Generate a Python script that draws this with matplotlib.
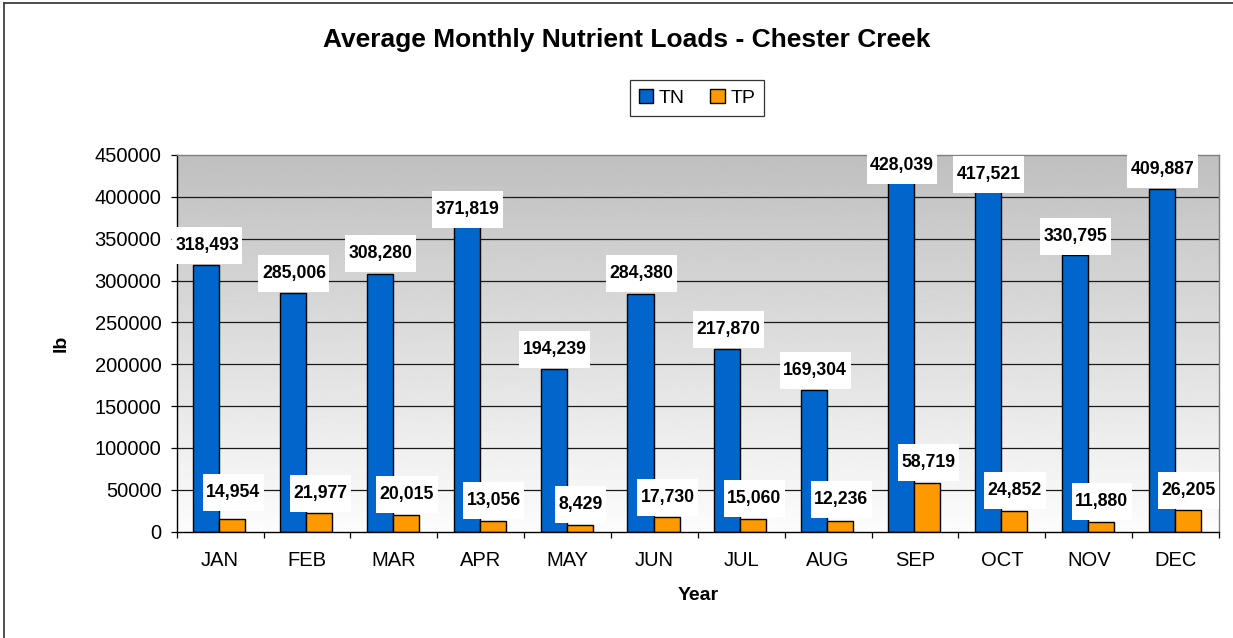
import numpy as np
import matplotlib
matplotlib.use("Agg")
import matplotlib.pyplot as plt
from matplotlib.lines import Line2D
from matplotlib.patches import Rectangle
from matplotlib.transforms import IdentityTransform

plt.rcParams['font.family'] = ['Liberation Sans', 'DejaVu Sans']

months = ['JAN', 'FEB', 'MAR', 'APR', 'MAY', 'JUN',
          'JUL', 'AUG', 'SEP', 'OCT', 'NOV', 'DEC']
tn = [318493, 285006, 308280, 371819, 194239, 284380,
      217870, 169304, 428039, 417521, 330795, 409887]
tp = [14954, 21977, 20015, 13056, 8429, 17730,
      15060, 12236, 58719, 24852, 11880, 26205]

# vertical nudge of each value box (pixels, + is up) relative to the bar top
tn_nudge = [1.5, 1, 2, -8, 1, 1.4, 1.3, 1, -10.6, -10.4, 0, 1]
tp_nudge = [8.4, 1, 2, 2, 1.6, 1, 1.6, 3, 2, 2, 1.3, 1]

DPI = 100
fig = plt.figure(figsize=(12.33, 6.38), dpi=DPI)
ax = fig.add_axes([176.7 / 1233, 1 - 531.7 / 638,
                   (1219 - 176.7) / 1233, (531.7 - 155) / 638])

ymax = 450000
n = len(months)
ax.set_xlim(0, n)

# grey-to-white backdrop of the plot area (white at the bottom)
grad = np.linspace(0.99, 0.75, 256)[:, None]
ax.imshow(grad, cmap='gray', vmin=0, vmax=1, aspect='auto',
          extent=[0, n, 0, ymax], origin='lower', zorder=0)
ax.set_ylim(0, ymax)

yt = np.arange(0, ymax + 1, 50000)
for y in yt[1:-1]:
    ax.axhline(y, color='#1a1a1a', lw=0.9, zorder=1)

x = np.arange(n) + 0.5
w = 0.3
ax.bar(x - w / 2 - 0.01, tn, w, color='#0066CC', edgecolor='black',
       lw=1.0, zorder=2, label='TN')
ax.bar(x + w / 2 - 0.01, tp, w, color='#FF9900', edgecolor='black',
       lw=1.0, zorder=2, label='TP')

ax.set_yticks(yt)
ax.set_yticklabels([str(v) for v in yt], fontsize=14.5)
ax.tick_params(axis='y', direction='out', length=4, width=0.9, pad=7)
ax.set_xticks(np.arange(n + 1))
ax.set_xticklabels([])
ax.tick_params(axis='x', which='major', direction='out', length=4, width=0.9)
ax.set_xticks(x, minor=True)
ax.set_xticklabels(months, minor=True, fontsize=14.5)
ax.tick_params(axis='x', which='minor', length=0, pad=14)

for s in ['left', 'bottom']:
    ax.spines[s].set_color('black')
    ax.spines[s].set_linewidth(1.0)
for s in ['top', 'right']:
    ax.spines[s].set_color('#808080')
    ax.spines[s].set_linewidth(1.0)

ax.set_ylabel('lb', fontsize=14, fontweight='bold', labelpad=18)
ax.set_xlabel('Year', fontsize=14, fontweight='bold', labelpad=12)
fig.text(627 / 1233, 1 - 40 / 638,
         'Average Monthly Nutrient Loads - Chester Creek',
         ha='center', va='center', fontsize=19, fontweight='bold')

leg = fig.legend(loc='center', bbox_to_anchor=(697 / 1233, 1 - 98 / 638),
                 ncol=2, fontsize=14, frameon=True, fancybox=False,
                 handlelength=0.75, handleheight=0.75, handletextpad=0.3,
                 columnspacing=1.3, borderpad=0.45, borderaxespad=0)
leg.get_frame().set_edgecolor('black')
leg.get_frame().set_linewidth(0.9)

# value labels in white boxes
box_h = 37
texts = []
for xs, vals, nudges in [(x - w / 2, tn, tn_nudge), (x + w / 2, tp, tp_nudge)]:
    for xi, v, dn in zip(xs, vals, nudges):
        t = ax.annotate(f'{v:,}', xy=(xi, v),
                        xytext=(0, (dn + box_h / 2) * 72 / DPI),
                        textcoords='offset points', ha='center', va='center',
                        fontsize=12.7, fontweight='bold', zorder=6)
        texts.append(t)

fig.canvas.draw()
rend = fig.canvas.get_renderer()
for t in texts:
    bb = t.get_window_extent(rend)
    cy = (bb.y0 + bb.y1) / 2
    ax.add_patch(Rectangle((bb.x0 - 3.5, cy - box_h / 2), bb.width + 7, box_h,
                           transform=IdentityTransform(), fc='white',
                           ec='none', zorder=5, clip_on=False))

# chart frame: only the top and left edges show
x0, y0 = 3.5 / 1233, 1 - 2.5 / 638
fig.add_artist(Line2D([x0, 1], [y0, y0], transform=fig.transFigure,
                      color='#404040', lw=1.3))
fig.add_artist(Line2D([x0, x0], [0, y0], transform=fig.transFigure,
                      color='#404040', lw=1.3))

fig.savefig('out.png', dpi=DPI)
